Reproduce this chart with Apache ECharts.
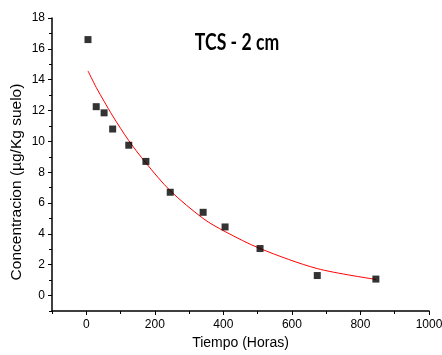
<!DOCTYPE html>
<html>
<head>
<meta charset="utf-8">
<script src="https://cdn.jsdelivr.net/npm/echarts@6/dist/echarts.min.js"></script>
<style>
  html, body { margin: 0; padding: 0; background: #fff; }
  #chart { width: 442px; height: 355px; }
</style>
</head>
<body>
<div id="chart"></div>
<script>
// measured points (hours, µg/Kg)
const hours = [5, 29, 52, 77, 124, 174, 245, 341, 405, 507, 674, 845];
const concentration = [16.6, 12.25, 11.85, 10.8, 9.75, 8.7, 6.7, 5.4, 4.45, 3.05, 1.3, 1.07];
// fitted decay curve read at the same times
const fitted = [14.57, 13.5, 12.6, 11.65, 10.05, 8.6, 6.8, 5.0, 4.15, 3.05, 1.75, 1.05];

const xMajor = [0, 200, 400, 600, 800, 1000];
const xMinor = [-100, 100, 300, 500, 700, 900];
const yMajor = [0, 2, 4, 6, 8, 10, 12, 14, 16, 18];
const yMinor = [-1, 1, 3, 5, 7, 9, 11, 13, 15, 17];

const font = "Liberation Sans, Arial, sans-serif";
const chart = echarts.init(document.getElementById("chart"), null, { renderer: "canvas" });

const axisLine = { show: true, onZero: false, lineStyle: { color: "#000", width: 1.5 } };

chart.setOption({
  backgroundColor: "#fff",
  animation: false,
  graphic: [
    {
      type: "text", x: 237, y: 43, scaleX: 0.8,
      style: { text: "TCS - 2 cm", font: "bold 22px Lato, sans-serif", fill: "#000", align: "center", verticalAlign: "middle" }
    },
    {
      type: "text", x: 17, y: 182, rotation: Math.PI / 2,
      style: { text: "Concentracion (µg/Kg suelo)", font: "15.5px Liberation Sans, Arial, sans-serif", fill: "#000", align: "center", verticalAlign: "middle" }
    }
  ],
  grid: { left: 52, right: 13, top: 18, bottom: 44, outerBoundsMode: "none" },
  xAxis: [
    {
      type: "value", min: -100, max: 1000,
      axisLine: axisLine, splitLine: { show: false },
      axisTick: { show: true, length: 4, customValues: xMajor, lineStyle: { color: "#000" } },
      axisLabel: { customValues: xMajor, formatter: (v) => String(v), color: "#000", fontFamily: font, fontSize: 12, margin: 8 },
      name: "Tiempo (Horas)", nameLocation: "middle", nameGap: 25,
      nameTextStyle: { fontFamily: font, fontSize: 14, color: "#000" }
    },
    {
      type: "value", min: -100, max: 1000, position: "bottom",
      axisLine: { show: false, onZero: false }, splitLine: { show: false },
      axisTick: { show: true, length: 3, customValues: xMinor, lineStyle: { color: "#000" } },
      axisLabel: { show: false }
    }
  ],
  yAxis: [
    {
      type: "value", min: -1, max: 18,
      axisLine: axisLine, splitLine: { show: false },
      axisTick: { show: true, length: 4, customValues: yMajor, lineStyle: { color: "#000" } },
      axisLabel: { customValues: yMajor, color: "#000", fontFamily: font, fontSize: 12, margin: 7 }
    },
    {
      type: "value", min: -1, max: 18, position: "left",
      axisLine: { show: false, onZero: false }, splitLine: { show: false },
      axisTick: { show: true, length: 3, customValues: yMinor, lineStyle: { color: "#000" } },
      axisLabel: { show: false }
    }
  ],
  series: [
    {
      type: "line",
      data: hours.map((h, i) => [h, fitted[i]]),
      showSymbol: false,
      smooth: 0.3,
      lineStyle: { color: "#ff0000", width: 1 },
      z: 2
    },
    {
      type: "scatter",
      data: hours.map((h, i) => [h, concentration[i]]),
      symbol: "rect",
      symbolSize: 7,
      itemStyle: { color: "#000" },
      z: 3
    }
  ]
});
</script>
</body>
</html>
